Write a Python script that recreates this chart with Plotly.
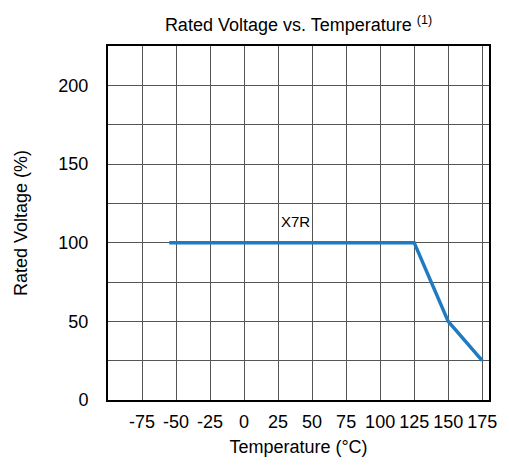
import plotly.graph_objects as go

# Data
temperature = [-55, 125, 150, 175]
rated_voltage = [100, 100, 50, 25]
series_name = "X7R"

x_tick_vals = [-75, -50, -25, 0, 25, 50, 75, 100, 125, 150, 175]
x_tick_text = ["-75", "-50", "-25", "0", "25", "50", "75", "100", "125", "150", "175"]
y_tick_vals = [0, 50, 100, 150, 200]
y_tick_text = ["0", "50", "100", "150", "200"]

FONT = "Liberation Sans, Arial, sans-serif"
FS = 18

# The page body has an 8px margin, so the figure is drawn 8px smaller.
fig = go.Figure()
fig.add_trace(go.Scatter(
    x=temperature, y=rated_voltage, mode="lines", name=series_name,
    line=dict(color="#1f7bc1", width=3.5), showlegend=False,
))

fig.add_annotation(x=38, y=113.5, text=series_name, showarrow=False,
                   font=dict(family=FONT, size=15, color="#000"))

fig.update_layout(
    width=501, height=458,
    margin=dict(l=95, r=12, t=38, b=64),
    paper_bgcolor="white", plot_bgcolor="white",
    title=dict(text="Rated Voltage vs. Temperature <sup>(1)</sup>",
               x=0.5, xref="paper", xanchor="center",
               y=1 - 17 / 458, yref="container", yanchor="middle",
               font=dict(family=FONT, size=FS, color="#000")),
    font=dict(family=FONT, size=FS, color="#000"),
)

fig.update_xaxes(
    range=[-100, 180], tickvals=x_tick_vals, ticktext=x_tick_text,
    showgrid=True, gridcolor="#555", gridwidth=1, zeroline=False,
    showline=True, linecolor="#000", linewidth=2, mirror=True,
    ticks="", tickfont=dict(family=FONT, size=FS, color="#000"),
    ticklabelstandoff=4,
    title=dict(text="Temperature (°C)", font=dict(family=FONT, size=FS, color="#000"), standoff=10),
)
fig.update_yaxes(
    range=[0, 225], tickvals=y_tick_vals, ticktext=y_tick_text,
    showgrid=True, gridcolor="#555", gridwidth=1, zeroline=False,
    minor=dict(dtick=25, tick0=0, showgrid=True, gridcolor="#555", gridwidth=1),
    showline=True, linecolor="#000", linewidth=2, mirror=True,
    ticks="", tickfont=dict(family=FONT, size=FS, color="#000"),
    ticklabelstandoff=14,
    title=dict(text="Rated Voltage (%)", font=dict(family=FONT, size=FS, color="#000"), standoff=26),
)

fig.write_html("out.html")
